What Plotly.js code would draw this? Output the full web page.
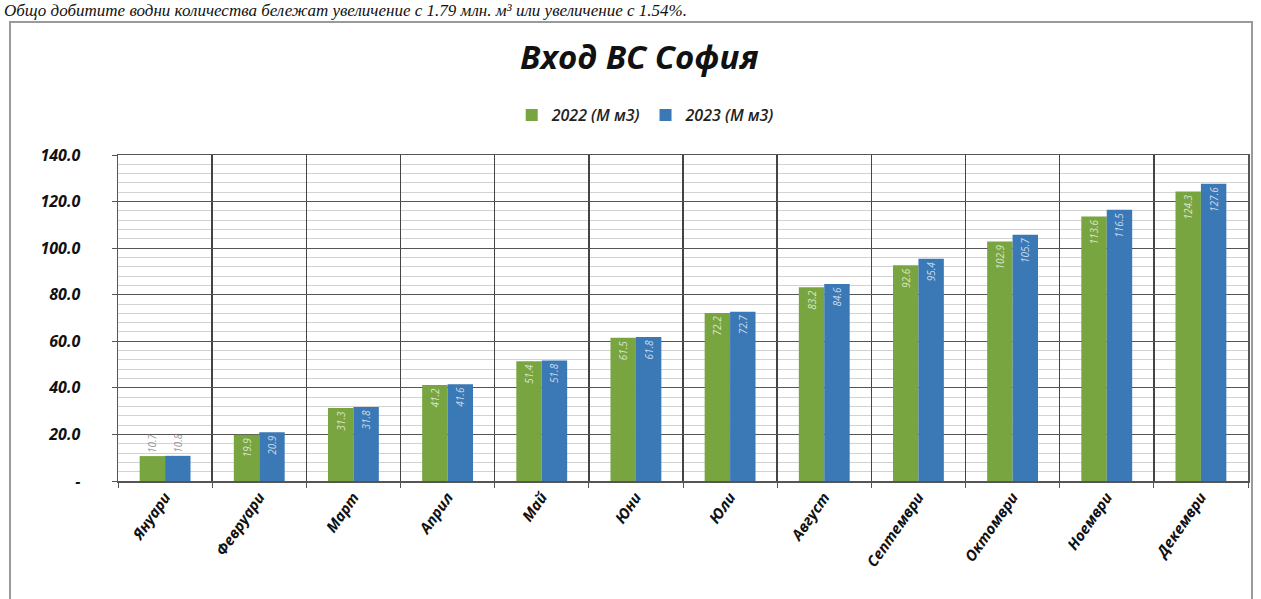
<!DOCTYPE html>
<html>
<head>
<meta charset="utf-8">
<script src="https://cdn.plot.ly/plotly-3.0.1.min.js"></script>
<style>
html,body{margin:0;padding:0;background:#fff;}
#chart{width:1261px;height:599px;}
</style>
</head>
<body>
<div id="chart"></div>
<script>
const months = ["Януари","Февруари","Март","Април","Май","Юни","Юли","Август","Септември","Октомври","Ноември","Декември"];
const values2022 = [10.7, 19.9, 31.3, 41.2, 51.4, 61.5, 72.2, 83.2, 92.6, 102.9, 113.6, 124.3];
const values2023 = [10.8, 20.9, 31.8, 41.6, 51.8, 61.8, 72.7, 84.6, 95.4, 105.7, 116.5, 127.6];
const seriesNames = ["2022 (M м3)", "2023 (M м3)"];
const yTickVals = [0, 20, 40, 60, 80, 100, 120, 140];
const yTickText = ["-", "20.0", "40.0", "60.0", "80.0", "100.0", "120.0", "140.0"];
const chartTitle = "Вход ВС София";
const headerText = "Общо добитите водни количества бележат увеличение с 1.79 млн. м³ или увеличение с 1.54%.";

const green = "#78a540";
const blue = "#3a78b6";

function labelPos(vals){ return vals.map(v => v < 15 ? "outside" : "inside"); }
function labelColor(vals){ return vals.map(v => v < 15 ? "rgba(120,120,120,0.8)" : "rgba(255,255,255,0.75)"); }

const traces = [
  {type:"bar", name:seriesNames[0], x:months, y:values2022,
   marker:{color:green},
   text:values2022.map(v=>v.toFixed(1)), textposition:labelPos(values2022),
   textangle:-90, insidetextanchor:"end", cliponaxis:false,
   textfont:{family:"Open Sans", size:10, style:"italic", color:labelColor(values2022)}},
  {type:"bar", name:seriesNames[1], x:months, y:values2023,
   marker:{color:blue},
   text:values2023.map(v=>v.toFixed(1)), textposition:labelPos(values2023),
   textangle:-90, insidetextanchor:"end", cliponaxis:false,
   textfont:{family:"Open Sans", size:10, style:"italic", color:labelColor(values2023)}}
];

const L = 118, R = 13, T = 155, B = 118;
const W = 1261 - L - R, H = 599 - T - B;
function px2x(p){ return (p - L) / W; }
function px2y(p){ return (599 - B - p) / H; }

const layout = {
  width:1261, height:599,
  margin:{l:L, r:R, t:T, b:B},
  paper_bgcolor:"#ffffff", plot_bgcolor:"#ffffff",
  barmode:"group", bargap:0.46, bargroupgap:0,
  title:{text:chartTitle, x:0.507, xanchor:"center", y:1-57/599, yanchor:"middle",
         font:{family:"Open Sans", size:33, weight:700, style:"italic", color:"#111"}},
  showlegend:true,
  legend:{orientation:"h", x:0.467, xanchor:"center", y:px2y(115), yanchor:"middle",
          font:{family:"Open Sans", size:16, style:"italic", weight:600, color:"#222"},
          itemwidth:30, traceorder:"normal", bgcolor:"rgba(0,0,0,0)"},
  xaxis:{type:"category", tickson:"boundaries", showgrid:true, gridcolor:"#444", gridwidth:1.5,
         zeroline:false,
         showline:true, linecolor:"#555", linewidth:1.5, mirror:true,
         ticks:"outside", ticklen:5, tickcolor:"#555",
         tickangle:-55,
         tickfont:{family:"Open Sans", size:15, weight:700, style:"italic", color:"#111"}},
  yaxis:{range:[0,140], tickvals:yTickVals, ticktext:yTickText,
         showgrid:true, gridcolor:"#555", gridwidth:1.2,
         minor:{dtick:4, showgrid:true, gridcolor:"#d2d2d2", gridwidth:1},
         showline:true, linecolor:"#555", linewidth:1.5, mirror:true,
         ticks:"outside", ticklen:5, tickcolor:"#555",
         ticklabelstandoff:28,
         zeroline:false,
         tickfont:{family:"Open Sans", size:16, weight:700, style:"italic", color:"#111"}},
  shapes:[
    {type:"rect", xref:"paper", yref:"paper",
     x0:px2x(10), x1:px2x(1252), y0:px2y(640), y1:px2y(22),
     line:{color:"#9a9a9a", width:2}, fillcolor:"rgba(0,0,0,0)", layer:"below"}
  ],
  annotations:[
    {text:headerText, xref:"paper", yref:"paper", x:px2x(2), xanchor:"left",
     y:px2y(22), yanchor:"bottom", showarrow:false,
     font:{family:"Liberation Serif", size:17, style:"italic", color:"#111"}}
  ]
};

Plotly.newPlot("chart", traces, layout, {displayModeBar:false, staticPlot:true});
</script>
</body>
</html>
